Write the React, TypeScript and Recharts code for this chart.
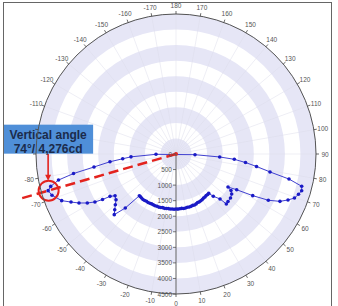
import { PolarAngleAxis, PolarGrid, PolarRadiusAxis, Radar, RadarChart } from "recharts";

// vertical angle in degrees (0 = straight down, +90 = right), walked round the measured curve
const angles = [
  87.9, 86.1, 84.8, 83.0, 81.2, 79.2, 77.5, 75.6, 73.7, 71.8, 69.6, 67.7, 65.5, 63.4, 61.5, 59.5,
  57.6, 56.4, 54.3, 51.1, 47.6, 45.2, 44.4, 41.4, 39.8,
  38, 36, 34, 32, 30, 28, 26, 24, 22, 20, 18, 16, 14, 12, 10, 8, 6, 4, 2, 0,
  -2, -4, -6, -8, -10, -12, -14, -16, -18, -20, -22, -24, -26, -28, -30, -32, -34, -36, -38, -40,
  -41.3, -43.2, -45.5, -47.7, -50.1, -52.7, -55.6, -57.3, -58.2, -59.4, -61.1, -63.2, -65.4, -67.8,
  -71.6, -74, -75.5, -77.5, -79.2, -81.0, -83.3, -84.9, -86.4, -89.1,
];

// luminous intensity (cd) for each angle above
const intensities = [
  611, 1408, 1882, 2251, 2619, 3076, 3720, 4171, 4209, 4145, 4063, 3892, 3672, 3319, 2806, 2264,
  1980, 2122, 2204, 2251, 2264, 2280, 2023, 1813, 1643,
  1655, 1650, 1668, 1672, 1690, 1700, 1712, 1708, 1730, 1742, 1738, 1750, 1758, 1752, 1762, 1770, 1758, 1766, 1772, 1768,
  1775, 1770, 1778, 1772, 1780, 1786, 1778, 1790, 1794, 1788, 1796, 1790, 1785, 1792, 1798, 1790, 1802, 1806, 1795, 1788,
  1785, 2381, 2782, 2662, 2542, 2424, 2375, 2520, 2778, 3027, 3257, 3493, 3711, 3969,
  4201, 4276, 4159, 3868, 3353, 2669, 2136, 1720, 1449, 643,
];

const angleTicks = [
  -170, -160, -150, -140, -130, -120, -110, -100, -90, -80, -70, -60, -50, -40, -30, -20, -10,
  0, 10, 20, 30, 40, 50, 60, 70, 80, 90, 100, 110, 120, 130, 140, 150, 160, 170, 180,
];
// these two labels sit under the callout box in the original
const coveredTicks = [-100, -90];
const intensityTicks = [0, 500, 1000, 1500, 2000, 2500, 3000, 3500, 4000, 4500];

const noteAngle = -74;
const noteLines = ["Vertical angle", "74°/ 4,276cd"];

const data = angles.map((a, i) => ({ angle: a, cd: intensities[i], note: a === noteAngle }));

const CX = 176;
const CY = 154;
const R = 140;
const BAND = R / 9;
const lavenderRadii = [0, 2, 4, 6, 8].map((i) => (i + 0.5) * BAND);
const RED = "#e3231e";

function AngleTick(props: any) {
  const { x, y, payload } = props;
  if (coveredTicks.includes(payload.value)) return <g />;
  const rad = (-payload.coordinate * Math.PI) / 180;
  return (
    <text
      x={x + Math.cos(rad) * 6}
      y={y + Math.sin(rad) * 6}
      textAnchor="middle"
      dominantBaseline="central"
      fontSize={6.5}
      fill="#555"
    >
      {payload.value}
    </text>
  );
}

function RadiusTick(props: any) {
  const { x, y, payload } = props;
  return (
    <g>
      <line x1={x - 3} y1={y} x2={x} y2={y} stroke="#555" strokeWidth={0.8} />
      <text x={x - 4} y={y} textAnchor="end" dominantBaseline="central" fontSize={6.5} fill="#555">
        {payload.value}
      </text>
    </g>
  );
}

function CurveDot(props: any) {
  const { cx, cy, index } = props;
  if (cx == null || cy == null) return <g key={`d${index}`} />;
  return <circle key={`d${index}`} cx={cx} cy={cy} r={1.8} fill="#1a1ac6" />;
}

function NoteShape(props: any) {
  const pts = props.points || [];
  const p = pts.find((q: any) => q.payload && q.payload.note);
  if (!p) return <g />;
  const ox = p.cx ?? CX;
  const oy = p.cy ?? CY;
  const ex = ox + (p.x - ox) * 1.22;
  const ey = oy + (p.y - oy) * 1.22;
  return (
    <g>
      <line x1={ox} y1={oy} x2={ex} y2={ey} stroke={RED} strokeWidth={2.5} strokeDasharray="10 5" />
      <circle cx={ox} cy={oy} r={2} fill={RED} />
      <circle cx={p.x + 0.5} cy={p.y} r={10} fill="none" stroke={RED} strokeWidth={2} />
      <line x1={p.x} y1={p.y - 37} x2={p.x} y2={p.y - 15} stroke={RED} strokeWidth={1.6} />
      <polygon
        points={`${p.x - 3},${p.y - 16} ${p.x + 3},${p.y - 16} ${p.x},${p.y - 10}`}
        fill={RED}
      />
      <rect x={p.x - 45} y={p.y - 66} width={90} height={29} fill="#4f8fd8" />
      {noteLines.map((t, i) => (
        <text
          key={t}
          x={p.x}
          y={p.y - 56 + i * 14}
          textAnchor="middle"
          dominantBaseline="central"
          fontSize={12}
          fontWeight="bold"
          fill="#1b2b4b"
        >
          {t}
        </text>
      ))}
    </g>
  );
}

export default function App() {
  return (
    <div
      style={{
        position: "absolute",
        left: 0,
        top: 0,
        width: 338,
        height: 306,
        overflow: "hidden",
        background: "#fff",
        fontFamily: "Arial, 'Liberation Sans', sans-serif",
      }}
    >
      <RadarChart
        width={338}
        height={306}
        data={data}
        cx={CX}
        cy={CY}
        innerRadius={0}
        outerRadius={R}
        startAngle={-270}
        endAngle={90}
        margin={{ top: 0, right: 0, bottom: 0, left: 0 }}
      >
        <PolarGrid
          gridType="circle"
          radialLines={false}
          polarRadius={lavenderRadii}
          stroke="#e6e6f6"
          strokeWidth={BAND}
        />
        <PolarGrid
          gridType="circle"
          polarRadius={[R]}
          polarAngles={angleTicks.map((a) => a - 90)}
          stroke="#dcdcea"
          strokeWidth={0.5}
        />
        <PolarAngleAxis
          dataKey="angle"
          type="number"
          domain={[-180, 180]}
          ticks={angleTicks}
          tick={AngleTick}
          tickSize={3}
          tickLine={{ stroke: "#444", strokeWidth: 0.8 }}
          axisLine={{ stroke: "#555", strokeWidth: 1 }}
          axisLineType="circle"
        />
        <PolarRadiusAxis
          angle={-90}
          type="number"
          domain={[0, 4500]}
          ticks={intensityTicks}
          tick={RadiusTick}
          axisLine={{ stroke: "#666", strokeWidth: 1 }}
          allowDataOverflow
        />
        <Radar
          dataKey="cd"
          stroke="#4040d0"
          strokeWidth={1}
          fill="none"
          fillOpacity={0}
          dot={CurveDot}
          isAnimationActive={false}
        />
        <Radar dataKey="cd" shape={NoteShape} dot={false} legendType="none" isAnimationActive={false} />
      </RadarChart>
      <div
        style={{
          position: "absolute",
          left: 3,
          top: 2,
          width: 327,
          height: 320,
          border: "1.5px solid #666",
          pointerEvents: "none",
        }}
      />
    </div>
  );
}
